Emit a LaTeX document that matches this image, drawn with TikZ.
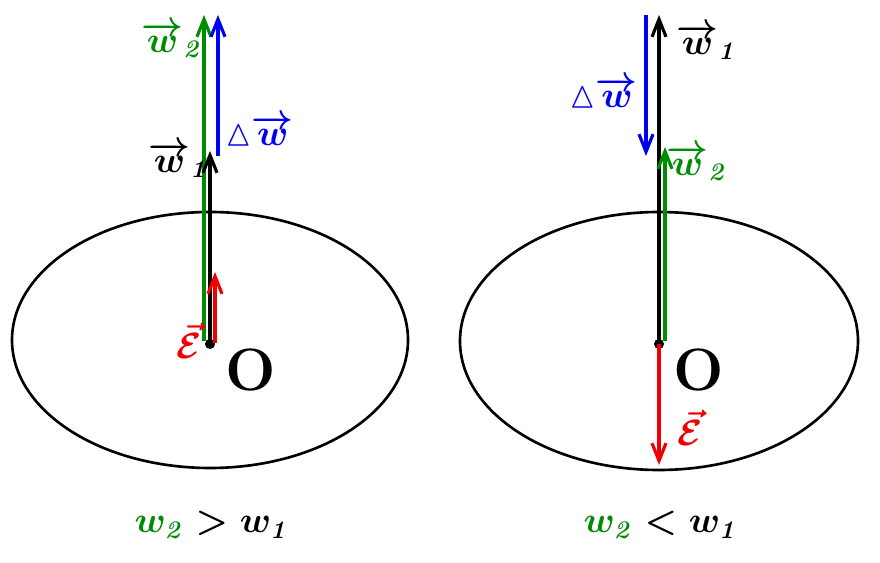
\documentclass[tikz,border=0pt]{standalone}
\usepackage{amsmath,amsfonts,amssymb}
\usepackage{tikz}
\usetikzlibrary{arrows.meta, positioning, calc}
\definecolor{DarkGreen}{RGB}{0,140,0}
\definecolor{PureRed}{RGB}{240,0,0}
\definecolor{PureBlue}{RGB}{0,0,240}

\begin{document}
\begin{tikzpicture}[x=0.02cm, y=-0.02cm,
  vec/.style={line width=2pt, -{Straight Barb[length=10pt, width=8pt, line width=1.8pt]}},
  lab/.style={font=\fontsize{21}{21}\selectfont\boldmath, inner sep=1pt},
  dot/.style={fill, circle, inner sep=0pt, minimum size=0.2cm}]
\useasboundingbox (0,0) rectangle (880,563);
% left picture: w2 > w1
\draw[line width=1.5pt] (210,340) ellipse [x radius=198, y radius=128];
\node[dot] at (210,344) (O1) {};
\coordinate (G1s) at (204,341);
\coordinate (G1e) at (204,15);
\coordinate (K1e) at (210,151);
\coordinate (B1s) at (218,156);
\coordinate (B1e) at (218,15);
\coordinate (R1s) at (215,343);
\coordinate (R1e) at (215,272);
\draw[vec, DarkGreen] (G1s) -- (G1e);
\draw[vec, black] (O1.center) -- (K1e);
\draw[vec, PureBlue] (B1s) -- (B1e);
\draw[vec, PureRed] (R1s) -- (R1e);
\node[lab, DarkGreen] at (172,40) (LW2a) {$\overrightarrow{w}_{\mathit 2}$};
\node[lab, PureBlue, anchor=west] at (223,130) (LDWa) {${\vartriangle}\overrightarrow{w}$};
\node[lab, black] at (179,160) (LW1a) {$\overrightarrow{w}_{\mathit 1}$};
\node[lab, PureRed] at (189,341) (LEa) {$\vec{\mathcal{E}}$};
\node[font=\fontsize{34}{34}\selectfont\bfseries] at (251,370) (LOa) {O};
\node[lab, font=\fontsize{22}{22}\selectfont\boldmath] at (212,525) (Ca) {$\textcolor{DarkGreen}{w_{\mathit 2}} \unboldmath > w_{\mathit 1}$};
% right picture: w2 < w1
\draw[line width=1.5pt] (659,341) ellipse [x radius=199, y radius=129];
\node[dot] at (659,344) (O2) {};
\coordinate (K2e) at (659,15);
\coordinate (B2s) at (646,15);
\coordinate (B2e) at (646,156);
\coordinate (G2s) at (665,341);
\coordinate (G2e) at (665,147);
\coordinate (R2e) at (659,465);
\draw[vec, black] (O2.center) -- (K2e);
\draw[vec, PureBlue] (B2s) -- (B2e);
\draw[vec, DarkGreen] (G2s) -- (G2e);
\draw[vec, PureRed] (O2.center) -- (R2e);
\node[lab, black] at (707,42) (LW1b) {$\overrightarrow{w}_{\mathit 1}$};
\node[lab, PureBlue, anchor=east] at (640,92) (LDWb) {${\vartriangle}\overrightarrow{w}$};
\node[lab, DarkGreen] at (697,163) (LW2b) {$\overrightarrow{w}_{\mathit 2}$};
\node[lab, PureRed] at (690,428) (LEb) {$\vec{\mathcal{E}}$};
\node[font=\fontsize{34}{34}\selectfont\bfseries] at (699,370) (LOb) {O};
\node[lab, font=\fontsize{22}{22}\selectfont\boldmath] at (661,525) (Cb) {$\textcolor{DarkGreen}{w_{\mathit 2}} < w_{\mathit 1}$};
\end{tikzpicture}
\end{document}
